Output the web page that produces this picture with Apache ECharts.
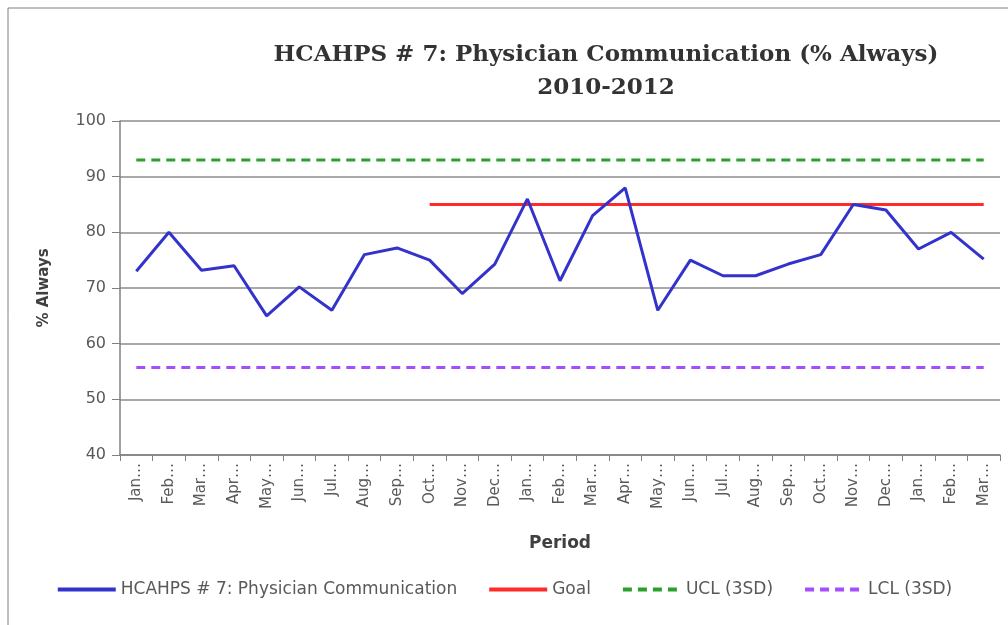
<!DOCTYPE html>
<html lang="en">
<head>
    <meta charset="UTF-8">
    <title>HCAHPS # 7</title>
    <script src="https://cdn.jsdelivr.net/npm/echarts@6/dist/echarts.min.js"></script>
    <style>
        body{ margin:0; background:#fff; }
    </style>
</head>
<body>
    <div id="main" style="width:1008px;height:625px;"></div>

    <script>
        // data
        var periods = ['Jan-10','Feb-10','Mar-10','Apr-10','May-10','Jun-10','Jul-10','Aug-10','Sep-10','Oct-10','Nov-10','Dec-10',
                       'Jan-11','Feb-11','Mar-11','Apr-11','May-11','Jun-11','Jul-11','Aug-11','Sep-11','Oct-11','Nov-11','Dec-11',
                       'Jan-12','Feb-12','Mar-12'];
        var physician = [73,80,73.2,74,65,70.2,66,76,77.2,75,69,74.3,86,71.3,83,88,66,75,72.2,72.2,74.3,76,85,84,77,80,75.2];
        var goal = [null,null,null,null,null,null,null,null,null,85,85,85,85,85,85,85,85,85,85,85,85,85,85,85,85,85,85];
        var ucl = [93,93,93,93,93,93,93,93,93,93,93,93,93,93,93,93,93,93,93,93,93,93,93,93,93,93,93];
        var lcl = [55.7,55.7,55.7,55.7,55.7,55.7,55.7,55.7,55.7,55.7,55.7,55.7,55.7,55.7,55.7,55.7,55.7,55.7,55.7,55.7,55.7,55.7,55.7,55.7,55.7,55.7,55.7];

        var mycharts = echarts.init(document.getElementById("main"));
        var txt = '#595959';
        var font = 'DejaVu Sans';

        var option = {
            animation: false,
            title: {
                text: 'HCAHPS # 7: Physician Communication (% Always)\n2010-2012',
                left: 601, top: 34, textAlign: 'center',
                textStyle: { fontFamily: 'DejaVu Serif', fontWeight: 'bold', fontSize: 23, color: '#333', lineHeight: 33 }
            },
            graphic: [{
                type: 'polyline', silent: true,
                shape: { points: [[8, 625], [8, 8], [1008, 8]] },
                style: { stroke: '#808080', lineWidth: 1, fill: null }
            }],
            legend: {
                bottom: 22, left: 'center', itemWidth: 58, itemHeight: 12, itemGap: 30,
                itemStyle: { opacity: 0 },
                lineStyle: { width: 4 },
                textStyle: { fontFamily: font, fontSize: 17, color: txt },
                data: ['HCAHPS # 7: Physician Communication', 'Goal', 'UCL (3SD)', 'LCL (3SD)']
            },
            grid: { left: 120, right: 8, top: 121, bottom: 170 },
            xAxis: {
                type: 'category', data: periods, boundaryGap: true,
                name: 'Period', nameLocation: 'middle', nameGap: 80,
                nameTextStyle: { fontFamily: font, fontWeight: 'bold', fontSize: 17, color: '#404040' },
                axisLine: { lineStyle: { color: '#808080', width: 1.5 } },
                axisTick: { show: true, alignWithLabel: false, length: 6, lineStyle: { color: '#808080' } },
                axisLabel: {
                    rotate: 90, interval: 0, fontFamily: font, fontSize: 15, color: txt, margin: 8,
                    formatter: function (v) { return v.slice(0, 3) + '…'; }
                }
            },
            yAxis: {
                type: 'value', min: 40, max: 100, interval: 10,
                name: '% Always', nameLocation: 'middle', nameGap: 68, nameRotate: 90,
                nameTextStyle: { fontFamily: font, fontWeight: 'bold', fontSize: 15, color: '#404040' },
                axisLine: { show: true, lineStyle: { color: '#808080', width: 1.5 } },
                axisTick: { show: true, length: 8, lineStyle: { color: '#808080' } },
                axisLabel: { fontFamily: font, fontSize: 16, color: txt, margin: 14 },
                splitLine: { lineStyle: { color: '#8c8c8c', width: 1.5 } }
            },
            series: [
                {
                    name: 'HCAHPS # 7: Physician Communication', type: 'line', data: physician,
                    symbol: 'none', lineStyle: { color: '#3333cc', width: 3 }, itemStyle: { color: '#3333cc' }, z: 5
                },
                {
                    name: 'Goal', type: 'line', data: goal, symbol: 'none',
                    lineStyle: { color: '#ff2a2a', width: 3 }, itemStyle: { color: '#ff2a2a' }, z: 4
                },
                {
                    name: 'UCL (3SD)', type: 'line', data: ucl, symbol: 'none',
                    lineStyle: { color: '#2ca02c', width: 3, type: [9, 6] }, itemStyle: { color: '#2ca02c' }
                },
                {
                    name: 'LCL (3SD)', type: 'line', data: lcl, symbol: 'none',
                    lineStyle: { color: '#a64dff', width: 3, type: [9, 6] }, itemStyle: { color: '#a64dff' }
                }
            ]
        };

        mycharts.setOption(option);
    </script>
</body>
</html>
